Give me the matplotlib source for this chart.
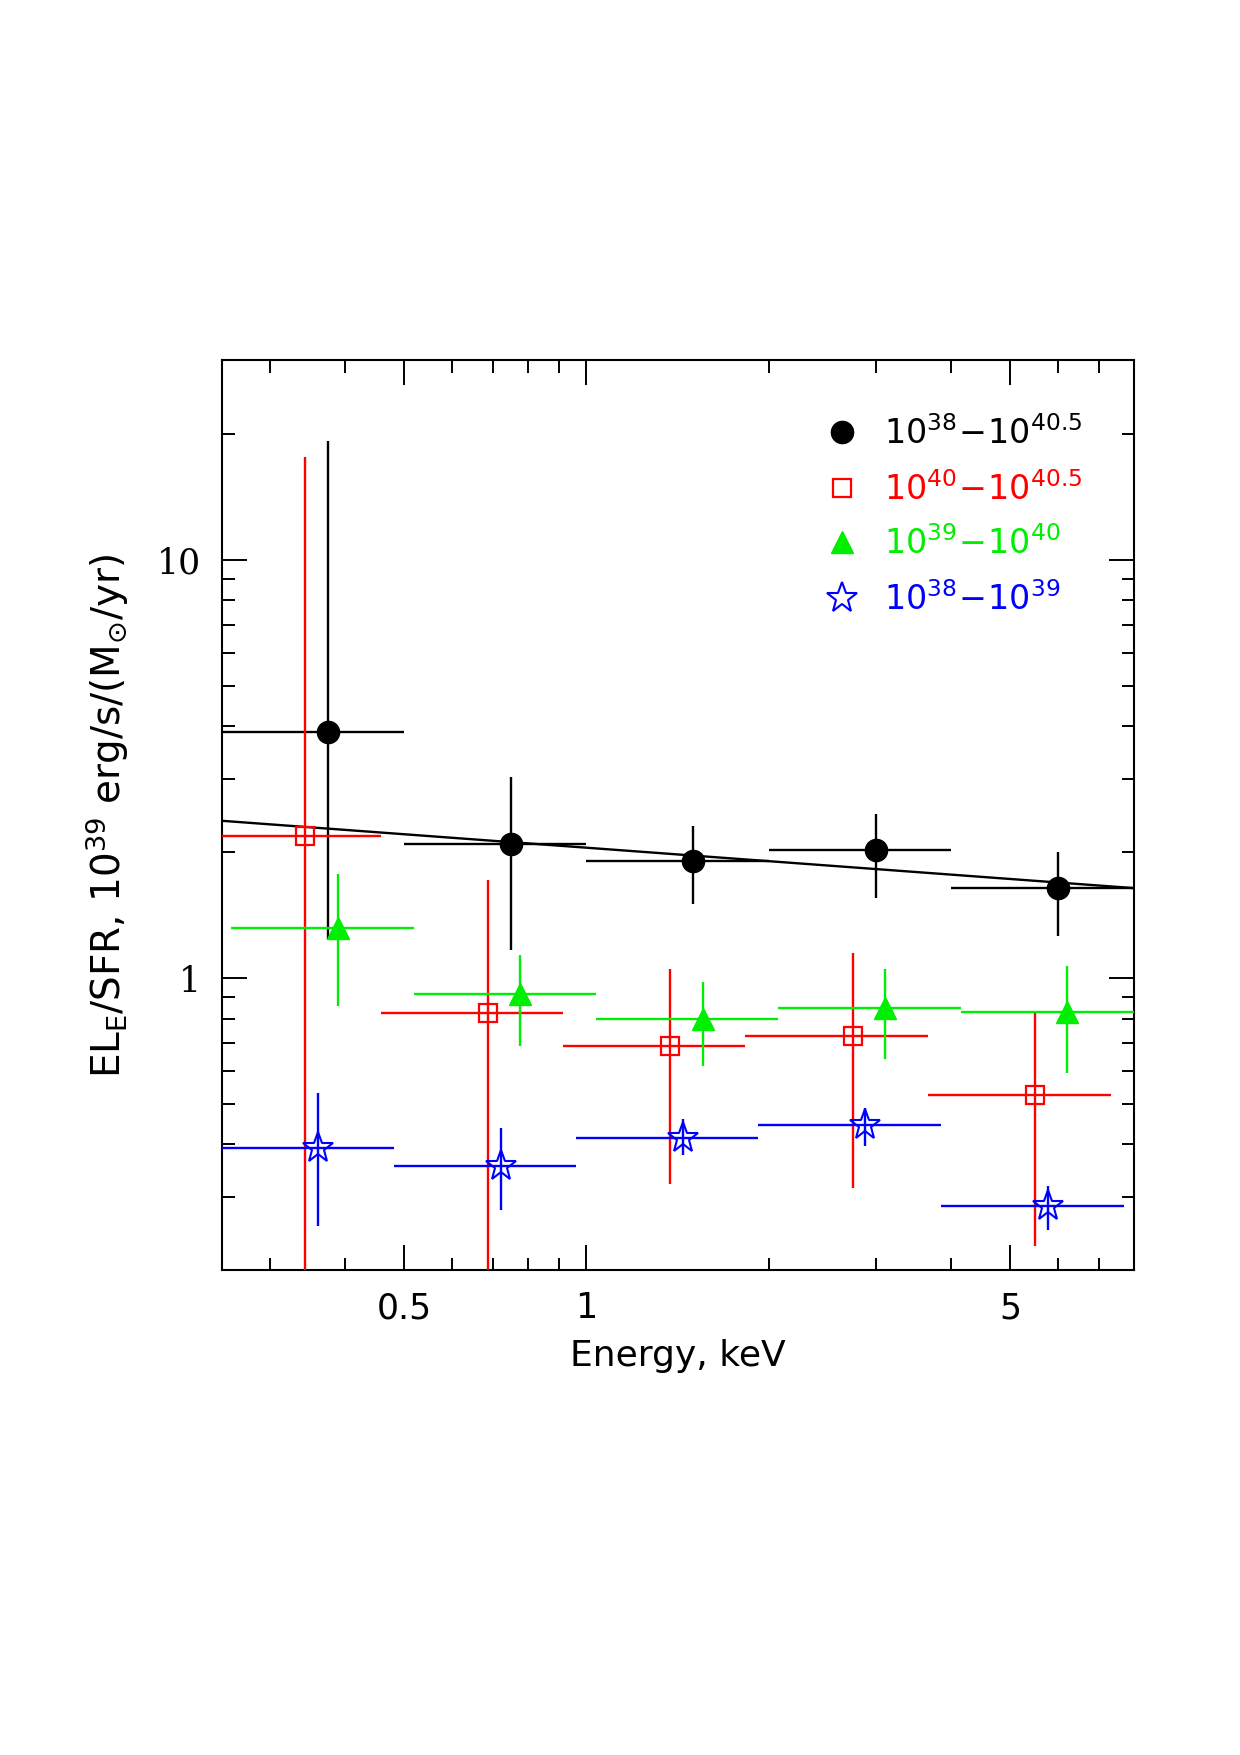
import numpy as np
import matplotlib
matplotlib.use('Agg')
import matplotlib.pyplot as plt
from matplotlib.ticker import FixedLocator, FixedFormatter, NullFormatter

plt.rcParams['font.family'] = ['DejaVu Sans']
plt.rcParams['mathtext.fontset'] = 'dejavusans'

# energy bins (keV): centre, lower edge, upper edge
black_x = [0.375, 0.75, 1.5, 3.0, 6.0]
black_xlo = [0.25, 0.5, 1.0, 2.0, 4.0]
black_xhi = [0.5, 1.0, 2.0, 4.0, 8.0]
black_y = [3.87, 2.09, 1.91, 2.02, 1.64]
black_ylo = [1.23, 1.17, 1.50, 1.55, 1.26]
black_yhi = [19.3, 3.03, 2.31, 2.47, 2.00]

red_x = [0.343, 0.688, 1.376, 2.75, 5.50]
red_xlo = [0.229, 0.458, 0.916, 1.83, 3.66]
red_xhi = [0.458, 0.916, 1.83, 3.66, 7.33]
red_y = [2.19, 0.826, 0.687, 0.726, 0.524]
red_ylo = [0.01, 0.01, 0.322, 0.314, 0.228]
red_yhi = [17.6, 1.72, 1.05, 1.145, 0.826]

green_x = [0.389, 0.778, 1.556, 3.11, 6.22]
green_xlo = [0.259, 0.519, 1.037, 2.07, 4.15]
green_xhi = [0.519, 1.037, 2.07, 4.15, 8.30]
green_y = [1.32, 0.917, 0.80, 0.847, 0.831]
green_ylo = [0.857, 0.687, 0.615, 0.642, 0.593]
green_yhi = [1.77, 1.138, 0.98, 1.05, 1.07]

blue_x = [0.361, 0.722, 1.443, 2.886, 5.77]
blue_xlo = [0.240, 0.481, 0.962, 1.92, 3.85]
blue_xhi = [0.481, 0.962, 1.92, 3.85, 7.70]
blue_y = [0.392, 0.355, 0.415, 0.446, 0.285]
blue_ylo = [0.255, 0.278, 0.378, 0.397, 0.249]
blue_yhi = [0.530, 0.438, 0.460, 0.490, 0.318]

# power-law fit to the full sample: norm at 1 keV, index
fit_norm = 2.05
fit_index = -0.107

labels = [r'$10^{38}\!-\!10^{40.5}$', r'$10^{40}\!-\!10^{40.5}$',
          r'$10^{39}\!-\!10^{40}$', r'$10^{38}\!-\!10^{39}$']

x_major = [0.5, 1, 5]
x_major_labels = ['0.5', '1', '5']
x_minor = [0.3, 0.4, 0.6, 0.7, 0.8, 0.9, 2, 3, 4, 6, 7, 8]
y_major = [1, 10]
y_major_labels = ['1', '10']
y_minor = [0.2, 0.3, 0.4, 0.5, 0.6, 0.7, 0.8, 0.9,
           2, 3, 4, 5, 6, 7, 8, 9, 20, 30]

xlim = (0.25, 8.0)
ylim = (0.2, 30.0)


def errs(v, lo, hi):
    v = np.asarray(v)
    return [v - np.asarray(lo), np.asarray(hi) - v]


fig = plt.figure(figsize=(12.4, 17.55), dpi=100)
ax = fig.add_axes([0.1787, 0.2762, 0.7356, 0.5184])
ax.set_xscale('log')
ax.set_yscale('log')

series = [
    (black_x, black_xlo, black_xhi, black_y, black_ylo, black_yhi,
     dict(color='black', marker='o', ms=16, mfc='black')),
    (red_x, red_xlo, red_xhi, red_y, red_ylo, red_yhi,
     dict(color='#ff0000', marker='s', ms=13, mfc='none', mew=1.6)),
    (green_x, green_xlo, green_xhi, green_y, green_ylo, green_yhi,
     dict(color='#00ee00', marker='^', ms=16, mfc='#00ee00')),
    (blue_x, blue_xlo, blue_xhi, blue_y, blue_ylo, blue_yhi,
     dict(color='#0000ff', marker='*', ms=23, mfc='none', mew=1.5)),
]

for x, xlo, xhi, y, ylo, yhi, st in series:
    ax.errorbar(x, y, xerr=errs(x, xlo, xhi), yerr=errs(y, ylo, yhi),
                ls='none', elinewidth=1.7, capsize=0, zorder=3, **st)

# fitted line
xf = np.array(xlim)
ax.plot(xf, fit_norm * xf ** fit_index, color='black', lw=1.7, zorder=2)

ax.set_xlim(*xlim)
ax.set_ylim(*ylim)

ax.xaxis.set_major_locator(FixedLocator(x_major))
ax.xaxis.set_major_formatter(FixedFormatter(x_major_labels))
ax.xaxis.set_minor_locator(FixedLocator(x_minor))
ax.xaxis.set_minor_formatter(NullFormatter())
ax.yaxis.set_major_locator(FixedLocator(y_major))
ax.yaxis.set_major_formatter(FixedFormatter(y_major_labels))
ax.yaxis.set_minor_locator(FixedLocator(y_minor))
ax.yaxis.set_minor_formatter(NullFormatter())

ax.tick_params(which='both', direction='in', top=True, right=True, width=1.4)
ax.tick_params(which='major', length=18, labelsize=25, pad=15)
ax.tick_params(which='minor', length=9)
for lab in ax.get_yticklabels():
    lab.set_family('DejaVu Serif')
for sp in ax.spines.values():
    sp.set_linewidth(1.5)

ax.set_xlabel('Energy, keV', fontsize=26)
ax.xaxis.set_label_coords(0.5, -0.075)
ax.set_ylabel(r'EL$_{\rm E}$/SFR, 10$^{39}$ erg/s/(M$_{\odot}$/yr)', fontsize=28)
ax.yaxis.set_label_coords(-0.099, 0.5)

# legend drawn by hand
leg_y = [0.921, 0.860, 0.800, 0.739]
for (x, xlo, xhi, y, ylo, yhi, st), lab, ly in zip(series, labels, leg_y):
    ax.plot([0.680], [ly], transform=ax.transAxes, ls='none', clip_on=False,
            **st)
    ax.text(0.726, ly - 0.013, lab, transform=ax.transAxes, color=st['color'],
            fontsize=24, va='baseline', ha='left')

fig.savefig('out.png', dpi=100)
